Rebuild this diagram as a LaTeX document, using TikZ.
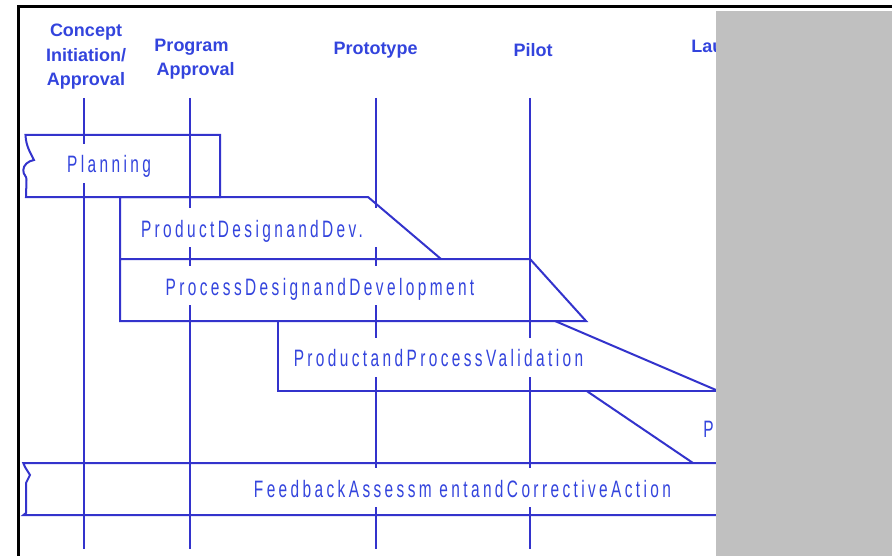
\documentclass[tikz,border=0pt]{standalone}
\usepackage{fontspec}
\newfontfamily\hdrfont{Liberation Sans}
\newfontfamily\lblfont[FakeStretch=0.65,LetterSpace=14.3]{Liberation Sans}
\definecolor{lineblue}{RGB}{51,51,204}
\definecolor{textblue}{RGB}{51,68,221}
\definecolor{panelgray}{RGB}{192,192,192}

\begin{document}
\begin{tikzpicture}[x=0.75pt,y=-0.75pt,
  phase/.style={draw=lineblue,line width=1.5pt,line join=miter},
  gate/.style={draw=lineblue,line width=1.5pt},
  milestone/.style={font=\hdrfont\bfseries\fontsize{13.5pt}{16pt}\selectfont,
    text=textblue,anchor=base,inner sep=0pt},
  tag/.style={font=\lblfont\fontsize{17.8pt}{20pt}\selectfont,text=textblue,
    fill=white,anchor=base,inner xsep=6pt,inner ysep=0pt,
    text height=21.75pt,text depth=7.5pt}]

\useasboundingbox (0,0) rectangle (892,556);
\clip (0,0) rectangle (892,556);

% milestone gate lines
\coordinate (gA-top) at (84,98);   \coordinate (gA-bot) at (84,549);
\coordinate (gB-top) at (190,98);  \coordinate (gB-bot) at (190,549);
\coordinate (gC-top) at (376,98);  \coordinate (gC-bot) at (376,549);
\coordinate (gD-top) at (530,98);  \coordinate (gD-bot) at (530,549);
\draw[gate] (gA-top) -- (gA-bot);
\draw[gate] (gB-top) -- (gB-bot);
\draw[gate] (gC-top) -- (gC-bot);
\draw[gate] (gD-top) -- (gD-bot);

% planning band with torn left edge
\draw[phase] (220,197) -- (26,197) -- (26.5,180)
  .. controls (27,176) and (23,175) .. (23.3,170)
  .. controls (23.5,165) and (28,161) .. (34,160)
  .. controls (30,152) and (26,146) .. (25.5,135) -- (220,135) -- cycle;

% product design and development
\draw[phase] (120,259) -- (120,197) -- (368,197) -- (441,259);

% process design and development
\draw[phase] (120,259) -- (530,259) -- (586,321) -- (120,321) -- cycle;

% product and process validation
\draw[phase] (278,321) -- (278,391) -- (720,391);
\draw[phase] (555,321) -- (720,391.7);

% production
\draw[phase] (586.7,391) -- (693,463);

% feedback band with torn left edge
\draw[phase] (720,463) -- (23.3,463) -- (25,467) -- (30,475) -- (26,483)
  -- (26,513) -- (23.5,515) -- (720,515);

% phase labels
\node[tag] (tPlan) at (109,173) {Planning};
\node[tag,inner xsep=12pt] (tProdDes) at (252,237) {ProductDesignandDev.};
\node[tag] (tProcDes) at (320,295) {ProcessDesignandDevelopment};
\node[tag] (tValid) at (438.5,366.7) {ProductandProcessValidation};
\node[tag,anchor=base west] (tProdn) at (695,437) {Production};
\node[tag] (tFeed) at (462.5,497) {FeedbackAssessm entandCorrectiveAction};

% milestone headings
\node[milestone] (hC1) at (86,37) {Concept};
\node[milestone] (hC2) at (86,62) {Initiation/};
\node[milestone] (hC3) at (86,86) {Approval};
\node[milestone] (hP1) at (191.5,52) {Program};
\node[milestone] (hP2) at (195.7,75.5) {Approval};
\node[milestone] (hProto) at (375.5,55) {Prototype};
\node[milestone] (hPilot) at (533,57) {Pilot};
\node[milestone,anchor=base west] (hLaunch) at (691,53) {Launch};

% grey panel on the right
\fill[panelgray] (716,11) rectangle (900,560);

% outer frame
\draw[black,line width=2.25pt] (18.2,560) -- (18.2,6.5) -- (900,6.5);
\end{tikzpicture}
\end{document}
